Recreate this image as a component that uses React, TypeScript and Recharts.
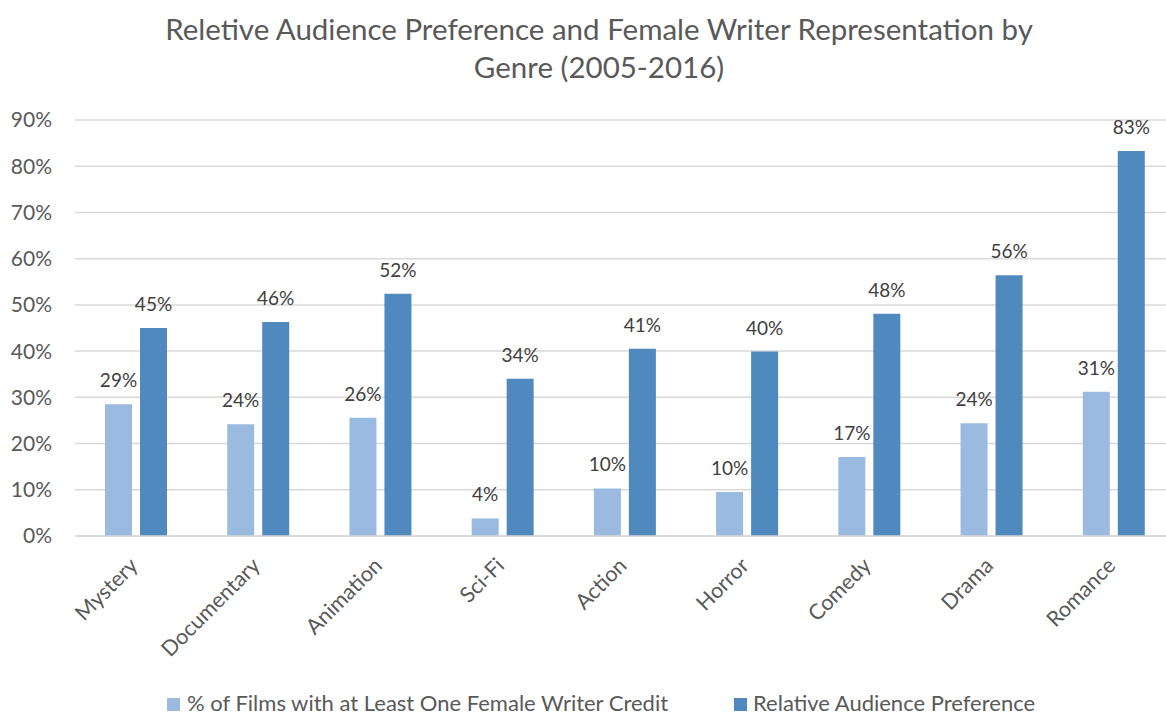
import React from 'react';
import { BarChart, Bar, XAxis, YAxis, CartesianGrid, LabelList, Legend } from 'recharts';

const categories = ['Mystery', 'Documentary', 'Animation', 'Sci-Fi', 'Action', 'Horror', 'Comedy', 'Drama', 'Romance'];
const femaleWriterPct = [28.5, 24.2, 25.6, 3.8, 10.3, 9.5, 17.1, 24.4, 31.2];
const audiencePref = [45.0, 46.3, 52.4, 34.0, 40.5, 39.9, 48.1, 56.4, 83.3];
const yTicks = [0, 10, 20, 30, 40, 50, 60, 70, 80, 90];
const seriesNames = ['% of Films with at Least One Female Writer Credit', 'Relative Audience Preference'];
const titleLines = ['Reletive Audience Preference and Female Writer Representation by', 'Genre (2005-2016)'];

const LIGHT = '#9ABADF';
const DARK = '#4F89BD';
const FONT = 'Lato, "Open Sans", sans-serif';
const TEXT = '#595959';

const data = categories.map((genre, i) => ({
  genre,
  female: femaleWriterPct[i],
  audience: audiencePref[i],
}));

const XTick = (props: any) => {
  const { x, y, payload } = props;
  const ax = x + 3;
  const ay = y + 23;
  return (
    <text
      x={ax}
      y={ay}
      transform={`rotate(-45, ${ax}, ${ay})`}
      textAnchor="end"
      fill={TEXT}
      fontSize={21.5}
      fontFamily={FONT}
    >
      {payload.value}
    </text>
  );
};

const LegendContent = () => (
  <div style={{ height: 30, position: 'relative', fontFamily: FONT, fontSize: 22, color: TEXT }}>
    <div style={{ position: 'absolute', left: 167, top: 4, display: 'flex', alignItems: 'center', whiteSpace: 'nowrap' }}>
      <span style={{ display: 'inline-block', width: 13, height: 13, background: LIGHT, marginRight: 7, marginTop: 3 }} />
      <span>{seriesNames[0]}</span>
    </div>
    <div style={{ position: 'absolute', left: 734, top: 4, display: 'flex', alignItems: 'center', whiteSpace: 'nowrap' }}>
      <span style={{ display: 'inline-block', width: 13, height: 13, background: DARK, marginRight: 6, marginTop: 3 }} />
      <span>{seriesNames[1]}</span>
    </div>
  </div>
);

const fmt = (v: any) => `${Math.round(Number(v))}%`;

export default function App() {
  return (
    <div style={{ position: 'absolute', left: 0, top: 0, width: 1166, height: 715, overflow: 'hidden', background: '#fff' }}>
      <div
        style={{
          position: 'absolute',
          left: 0,
          top: 10,
          width: 1198,
          textAlign: 'center',
          fontFamily: FONT,
          fontSize: 29.5,
          lineHeight: '38px',
          color: TEXT,
        }}
      >
        <div>{titleLines[0]}</div>
        <div>{titleLines[1]}</div>
      </div>
      <BarChart
        width={1180}
        height={715}
        data={data}
        margin={{ top: 120, right: 5, left: 0, bottom: 0 }}
        barSize={27}
        barGap={8}
      >
        <CartesianGrid vertical={false} stroke="#D9D9D9" strokeWidth={1.5} />
        <XAxis
          dataKey="genre"
          interval={0}
          height={149}
          tickLine={false}
          axisLine={{ stroke: '#D9D9D9', strokeWidth: 1.5 }}
          tick={<XTick />}
        />
        <YAxis
          domain={[0, 90]}
          ticks={yTicks}
          tickFormatter={(v: number) => `${v}%`}
          width={75}
          axisLine={false}
          tickLine={false}
          tickMargin={17}
          tick={{ fill: TEXT, fontSize: 21, fontFamily: FONT }}
        />
        <Legend verticalAlign="bottom" content={<LegendContent />} />
        <Bar dataKey="female" name={seriesNames[0]} fill={LIGHT} isAnimationActive={false}>
          <LabelList dataKey="female" position="top" offset={17} formatter={fmt} fill="#404040" fontSize={19} fontFamily={FONT} />
        </Bar>
        <Bar dataKey="audience" name={seriesNames[1]} fill={DARK} isAnimationActive={false}>
          <LabelList dataKey="audience" position="top" offset={17} formatter={fmt} fill="#404040" fontSize={19} fontFamily={FONT} />
        </Bar>
      </BarChart>
    </div>
  );
}
